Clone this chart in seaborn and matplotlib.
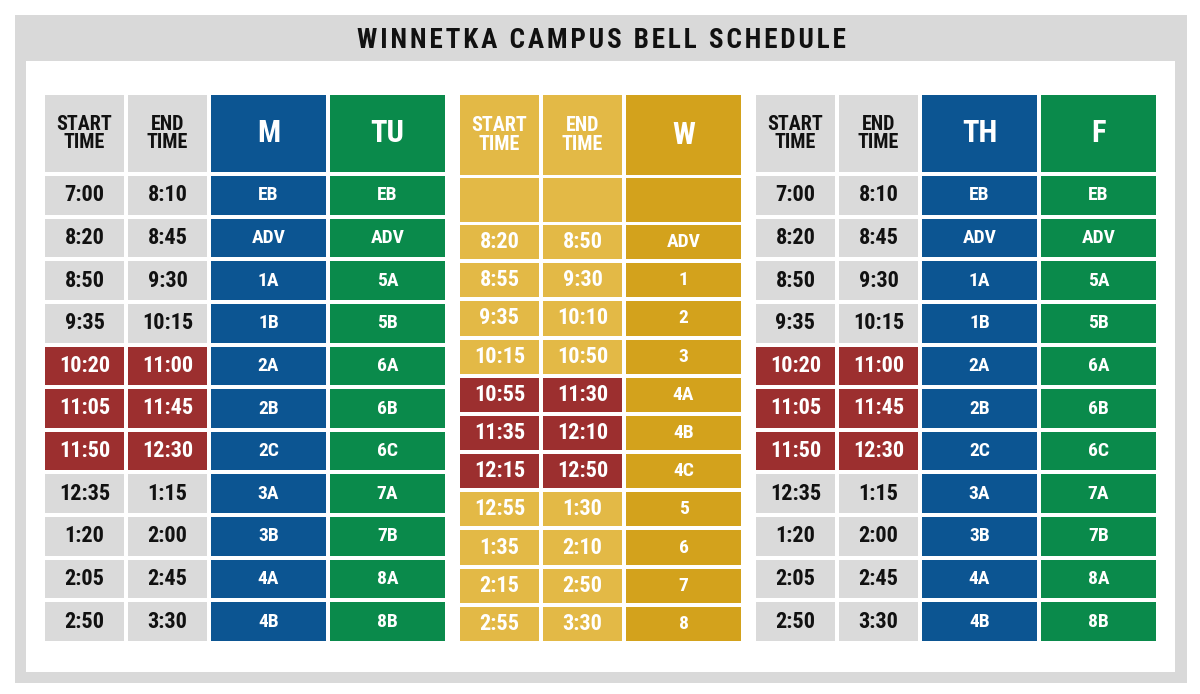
import numpy as np
import matplotlib
matplotlib.use('Agg')
import matplotlib.pyplot as plt
from matplotlib import font_manager
from matplotlib.colors import ListedColormap
from matplotlib.patches import Rectangle
import seaborn as sns

# ---- data ----
title = 'WINNETKA CAMPUS BELL SCHEDULE'
mt_start = ['7:00', '8:20', '8:50', '9:35', '10:20', '11:05', '11:50', '12:35', '1:20', '2:05', '2:50']
mt_end = ['8:10', '8:45', '9:30', '10:15', '11:00', '11:45', '12:30', '1:15', '2:00', '2:45', '3:30']
mon_periods = ['EB', 'ADV', '1A', '1B', '2A', '2B', '2C', '3A', '3B', '4A', '4B']
tue_periods = ['EB', 'ADV', '5A', '5B', '6A', '6B', '6C', '7A', '7B', '8A', '8B']
thu_periods = ['EB', 'ADV', '1A', '1B', '2A', '2B', '2C', '3A', '3B', '4A', '4B']
fri_periods = ['EB', 'ADV', '5A', '5B', '6A', '6B', '6C', '7A', '7B', '8A', '8B']
mt_lunch = [4, 5, 6]

w_start = ['8:20', '8:55', '9:35', '10:15', '10:55', '11:35', '12:15', '12:55', '1:35', '2:15', '2:55']
w_end = ['8:50', '9:30', '10:10', '10:50', '11:30', '12:10', '12:50', '1:30', '2:10', '2:50', '3:30']
wed_periods = ['ADV', '1', '2', '3', '4A', '4B', '4C', '5', '6', '7', '8']
w_lunch = [4, 5, 6]

time_headers = ['START\nTIME', 'END\nTIME']

# colour codes: 0 gray, 1 blue, 2 green, 3 red, 4 light gold, 5 dark gold
palette = ['#dadada', '#0c5592', '#0a8a4b', '#9c2f2f', '#e3b946', '#d3a21c']
text_on = ['#111111', 'white', 'white', 'white', 'white', 'white']

sns.set_theme(style='white')
avail = {f.name for f in font_manager.fontManager.ttflist}
fam = next((f for f in ['Liberation Sans Narrow', 'DejaVu Sans Condensed', 'Roboto Condensed',
                        'Open Sans Condensed', 'Roboto', 'Lato'] if f in avail), 'DejaVu Sans')
plt.rcParams['font.family'] = [fam, 'DejaVu Sans']

W, H = 1200, 694
fig = plt.figure(figsize=(W / 100, H / 100), dpi=100)
bg = fig.add_axes([0, 0, 1, 1])
bg.set_xlim(0, W)
bg.set_ylim(H, 0)
bg.axis('off')
bg.add_patch(Rectangle((15, 15), 1172, 668, color='#d9d9d9', lw=0))
bg.add_patch(Rectangle((26, 61), 1149, 611, color='white', lw=0))
bg.text(601, 40, '\u200a'.join(title).replace('\u200a \u200a', '\u2002'), ha='center', va='center',
        fontsize=19.5, fontweight='bold', color='#111111')

GAP = 4
lw_pt = GAP * 72 / 100
cmap = ListedColormap(palette)


def block(x0, y0, x1, y1, codes, labels, size):
    ax = fig.add_axes([(x0 - GAP / 2) / W, 1 - (y1 + GAP / 2) / H,
                       (x1 - x0 + GAP) / W, (y1 - y0 + GAP) / H])
    codes = np.array(codes)
    sns.heatmap(codes, cmap=cmap, vmin=-0.5, vmax=5.5, cbar=False,
                annot=np.array(labels, dtype=object), fmt='', linewidths=lw_pt,
                linecolor='white', xticklabels=False, yticklabels=False, ax=ax,
                annot_kws={'fontsize': size, 'fontweight': 'bold'})
    flat = codes.ravel()
    for t, c in zip(ax.texts, flat):
        t.set_color(text_on[c])
        t.set_linespacing(0.95)
    return ax


def side_table(ox, start, end, d1, d2, day_names):
    n = len(start)
    # headers
    block(ox, 95, ox + 162, 172, [[0, 0]], [time_headers], 14.5)
    block(ox + 166, 95, ox + 400, 172, [[1, 2]], [day_names], 22)
    tcodes = [[3 if i in mt_lunch else 0] * 2 for i in range(n)]
    block(ox, 176, ox + 162, 641, tcodes, [[s, e] for s, e in zip(start, end)], 16)
    block(ox + 166, 176, ox + 400, 641, [[1, 2]] * n, [[a, b] for a, b in zip(d1, d2)], 14)


side_table(45, mt_start, mt_end, mon_periods, tue_periods, ['M', 'TU'])
side_table(756, mt_start, mt_end, thu_periods, fri_periods, ['TH', 'F'])

# Wednesday
block(460, 95, 622, 175, [[4, 4]], [time_headers], 14.5)
block(626, 95, 741, 175, [[5]], [['W']], 22)
block(460, 178, 622, 222, [[4, 4]], [['', '']], 13)
block(626, 178, 741, 222, [[5]], [['']], 13)
wcodes = [[3 if i in w_lunch else 4] * 2 for i in range(len(w_start))]
block(460, 225, 622, 641, wcodes, [[s, e] for s, e in zip(w_start, w_end)], 16)
block(626, 225, 741, 641, [[5]] * len(wed_periods), [[p] for p in wed_periods], 14)

fig.savefig('out.png', dpi=100)
